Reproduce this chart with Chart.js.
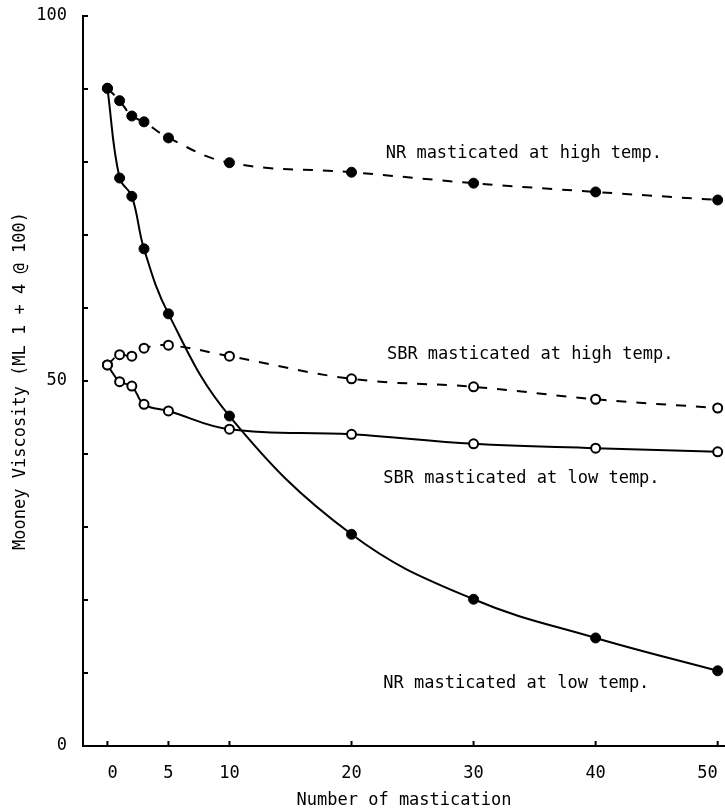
<!DOCTYPE html>
<html>
<head>
<meta charset="utf-8">
<script src="https://cdn.jsdelivr.net/npm/chart.js@4"></script>
<style>
  html, body { margin: 0; padding: 0; background: #fff; }
  #wrap { width: 725px; height: 811px; }
</style>
</head>
<body>
<div id="wrap"><canvas id="viscChart" width="725" height="811"></canvas></div>
<script>
// number of mastication passes
const passes = [0, 1, 2, 3, 5, 10, 20, 30, 40, 50];

// Mooney viscosity ML 1+4 @ 100
const nrHighTemp = [90.1, 88.4, 86.3, 85.5, 83.3, 79.9, 78.6, 77.1, 75.9, 74.8];
const nrLowTemp = [90.1, 77.8, 75.3, 68.1, 59.2, 45.2, 29.0, 20.1, 14.8, 10.3];
const sbrHighTemp = [52.2, 53.6, 53.4, 54.5, 54.9, 53.4, 50.3, 49.2, 47.5, 46.3];
const sbrLowTemp = [52.2, 49.9, 49.3, 46.8, 45.9, 43.4, 42.7, 41.4, 40.8, 40.3];

const xTicks = [0, 5, 10, 20, 30, 40, 50];
const yLabelled = [0, 50, 100];

const seriesNames = [
    'NR masticated at high temp.',
    'SBR masticated at high temp.',
    'SBR masticated at low temp.',
    'NR masticated at low temp.'
];

const FONT = '"DejaVu Sans Mono", "Liberation Mono", monospace';

const toPoints = ys => passes.map((x, i) => ({ x: x, y: ys[i] }));

// text next to each curve, anchored in data units
const curveLabels = [
    { text: seriesNames[0], x: 22.8, y: 81.2 },
    { text: seriesNames[1], x: 22.9, y: 53.6 },
    { text: seriesNames[2], x: 22.6, y: 36.7 },
    { text: seriesNames[3], x: 22.6, y: 8.5 }
];

const curveLabelPlugin = {
    id: 'curveLabels',
    afterDatasetsDraw(chart) {
        const { ctx, scales: { x, y } } = chart;
        ctx.save();
        ctx.fillStyle = '#000';
        ctx.font = '17px ' + FONT;
        ctx.textAlign = 'left';
        ctx.textBaseline = 'middle';
        curveLabels.forEach(l => {
            ctx.fillText(l.text, x.getPixelForValue(l.x), y.getPixelForValue(l.y));
        });
        ctx.restore();
    }
};

// short tick marks pointing into the plot
const innerTicksPlugin = {
    id: 'innerTicks',
    afterDraw(chart) {
        const { ctx, chartArea, scales: { x, y } } = chart;
        ctx.save();
        ctx.strokeStyle = '#000';
        ctx.lineWidth = 2;
        ctx.beginPath();
        y.ticks.forEach(t => {
            const py = y.getPixelForValue(t.value);
            ctx.moveTo(chartArea.left, py);
            ctx.lineTo(chartArea.left + 5, py);
        });
        xTicks.forEach(v => {
            const px = x.getPixelForValue(v);
            ctx.moveTo(px, chartArea.bottom);
            ctx.lineTo(px, chartArea.bottom - 5);
        });
        ctx.stroke();
        ctx.restore();
    }
};

// keep the plot box fixed, labels may hang over the edges
const noScalePadding = scale => {
    scale.paddingTop = 0;
    scale.paddingBottom = 0;
    scale.paddingLeft = 0;
    scale.paddingRight = 0;
};

const filledPoint = {
    pointRadius: 5,
    pointBackgroundColor: '#000',
    pointBorderColor: '#000',
    pointBorderWidth: 1
};
const openPoint = {
    pointRadius: 4.5,
    pointBackgroundColor: '#fff',
    pointBorderColor: '#000',
    pointBorderWidth: 2
};

new Chart(document.getElementById('viscChart').getContext('2d'), {
    type: 'line',
    data: {
        datasets: [
            Object.assign({ label: seriesNames[0], data: toPoints(nrHighTemp), borderDash: [10, 10] }, filledPoint),
            Object.assign({ label: seriesNames[1], data: toPoints(sbrHighTemp), borderDash: [10, 10] }, openPoint),
            Object.assign({ label: seriesNames[2], data: toPoints(sbrLowTemp) }, openPoint),
            Object.assign({ label: seriesNames[3], data: toPoints(nrLowTemp) }, filledPoint)
        ]
    },
    options: {
        responsive: false,
        animation: false,
        layout: { autoPadding: false, padding: { top: 16, right: 0, left: 0, bottom: 0 } },
        elements: {
            line: {
                borderColor: '#000',
                borderWidth: 2,
                tension: 0.4,
                fill: false
            }
        },
        scales: {
            x: {
                type: 'linear',
                min: -2,
                max: 50.6,
                afterFit: scale => { scale.height = 65; noScalePadding(scale); },
                afterBuildTicks: scale => {
                    scale.ticks = xTicks.map(v => ({ value: v }));
                },
                grid: { display: false, drawTicks: false },
                border: { display: true, color: '#000', width: 2 },
                ticks: {
                    padding: 17,
                    align: 'inner',
                    color: '#000',
                    maxRotation: 0,
                    font: { family: FONT, size: 17 },
                    callback: v => String(v)
                },
                title: {
                    display: true,
                    text: 'Number of mastication',
                    color: '#000',
                    font: { family: FONT, size: 17 },
                    padding: 0
                }
            },
            y: {
                min: 0,
                max: 100,
                afterFit: scale => { scale.width = 83; noScalePadding(scale); },
                grid: { display: false, drawTicks: false },
                border: { display: true, color: '#000', width: 2 },
                ticks: {
                    stepSize: 10,
                    padding: 16,
                    color: '#000',
                    font: { family: FONT, size: 17 },
                    callback: v => yLabelled.includes(v) ? String(v) : ''
                },
                title: {
                    display: true,
                    text: 'Mooney Viscosity (ML 1 + 4 @ 100)',
                    color: '#000',
                    font: { family: FONT, size: 17 },
                    padding: { top: 10, bottom: 0 }
                }
            }
        },
        plugins: {
            legend: { display: false },
            tooltip: { enabled: false }
        }
    },
    plugins: [curveLabelPlugin, innerTicksPlugin]
});
</script>
</body>
</html>
